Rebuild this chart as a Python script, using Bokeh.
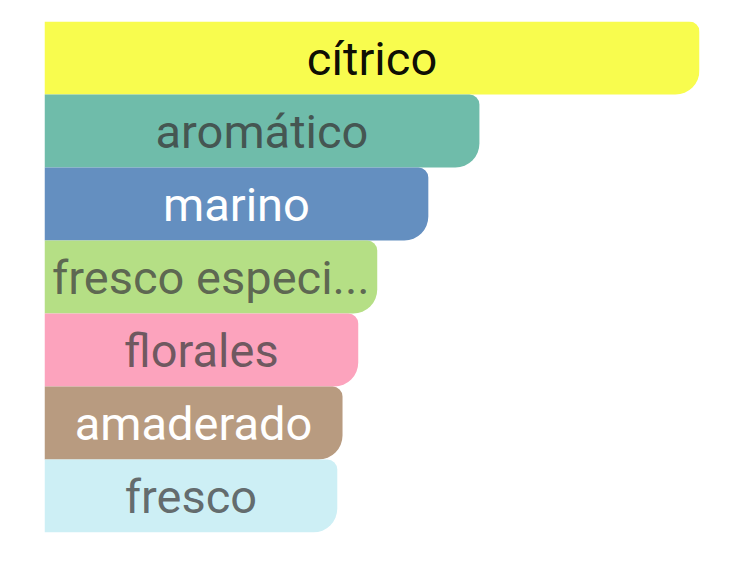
from bokeh.plotting import figure
from bokeh.models import ColumnDataSource, Range1d
from bokeh.core.properties import value
from bokeh.embed import file_html
from bokeh.resources import INLINE

categories = ["cítrico", "aromático", "marino", "fresco especi...", "florales", "amaderado", "fresco"]
values = [100, 66.4, 58.6, 50.8, 47.9, 45.5, 44.7]
bar_colors = ["#f8fc4e", "#6fbcaa", "#648fc0", "#b5df85", "#fca3bd", "#b89b80", "#cdeff5"]
text_colors = ["#000000", "#3a3a3a", "#ffffff", "#414141", "#414141", "#ffffff", "#414141"]
text_alphas = [0.95, 0.8, 1.0, 0.76, 0.76, 1.0, 0.76]

n = len(categories)
ypos = [n - 1 - i for i in range(n)]
src = ColumnDataSource(dict(
    y=ypos, v=values, half=[v / 2 for v in values], cat=categories,
    color=bar_colors, tcolor=text_colors, talpha=text_alphas,
))

p = figure(width=717, height=549, output_backend="svg", toolbar_location=None,
           x_range=Range1d(0, 100), y_range=Range1d(-0.5, n - 0.5),
           min_border_left=44, min_border_right=18, min_border_top=21, min_border_bottom=17)
p.axis.visible = False
p.grid.visible = False
p.outline_line_color = None
p.background_fill_color = "#ffffff"
p.border_fill_color = "#ffffff"

p.hbar(y="y", right="v", left=0, height=1.0, fill_color="color", line_color=None,
       border_radius=(0, 10, 24, 0), source=src)
p.text(x="half", y="y", text="cat", text_color="tcolor", text_alpha="talpha",
       text_align="center", text_baseline="middle", text_font=value("Roboto"),
       text_font_size="47px", source=src)

open("out.html", "w").write(file_html(p, INLINE))
